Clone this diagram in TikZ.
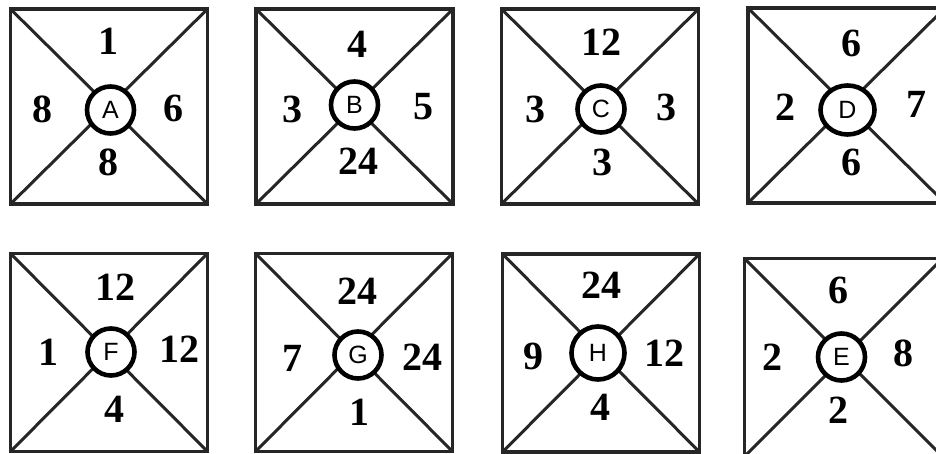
\documentclass[tikz,border=0pt]{standalone}
\usepackage{fontspec}
\setmainfont{Liberation Serif}
\newfontfamily\lettfont{Liberation Sans}
\usetikzlibrary{shapes.geometric}
\begin{document}
\begin{tikzpicture}[x=1pt,y=-1pt,
  panel/.style={draw=black!85,line width=3.8pt,minimum width=197pt,minimum height=195pt,outer sep=0pt,inner sep=0pt},
  diag/.style={draw=black!85,line width=3pt},
  ring/.style={circle,draw=black,fill=white,line width=4.6pt,minimum size=47pt,inner sep=0pt,font=\lettfont\fontsize{25}{25}\selectfont},
  oval/.style={ellipse,draw=black,fill=white,line width=4.6pt,minimum width=54pt,minimum height=49pt,inner sep=0pt,font=\lettfont\fontsize{25}{25}\selectfont},
  num/.style={inner sep=0pt,font=\bfseries\fontsize{40}{40}\selectfont}]
\clip (0,0) rectangle (936,454);
\fill[white] (0,0) rectangle (936,454);

% ---------- top row ----------
% A
\node[panel] (bA) at (109,106.5) {};
\draw[diag] (bA.north west) -- (bA.south east);
\draw[diag] (bA.north east) -- (bA.south west);
\node[ring] (cA) at (110.5,110) {A};
\node[num] (tA) at (108,41.5) {1};
\node[num] (lA) at (42,109) {8};
\node[num] (rA) at (173,108.5) {6};
\node[num] (dA) at (108,162.5) {8};

% B
\node[panel] (bB) at (354.5,106.5) {};
\draw[diag] (bB.north west) -- (bB.south east);
\draw[diag] (bB.north east) -- (bB.south west);
\node[ring] (cB) at (354.5,105) {B};
\node[num] (tB) at (357,44) {4};
\node[num] (lB) at (292,109) {3};
\node[num] (rB) at (423,107) {5};
\node[num] (dB) at (358,161) {24};

% C
\node[panel] (bC) at (600,106.5) {};
\draw[diag] (bC.north west) -- (bC.south east);
\draw[diag] (bC.north east) -- (bC.south west);
\node[ring] (cC) at (601,109) {C};
\node[num] (tC) at (601,42) {12};
\node[num] (lC) at (535,109) {3};
\node[num] (rC) at (666,107) {3};
\node[num] (dC) at (602,162) {3};

% D
\node[panel] (bD) at (846.5,105.5) {};
\draw[diag] (bD.north west) -- (bD.south east);
\draw[diag] (bD.north east) -- (bD.south west);
\node[oval] (cD) at (847.5,110) {D};
\node[num] (tD) at (851,43.5) {6};
\node[num] (lD) at (785,107) {2};
\node[num] (rD) at (916,104) {7};
\node[num] (dD) at (851,162.5) {6};

% ---------- bottom row ----------
% F
\node[panel,minimum height=198pt] (bF) at (109,352.5) {};
\draw[diag] (bF.north west) -- (bF.south east);
\draw[diag] (bF.north east) -- (bF.south west);
\node[ring] (cF) at (111,352) {F};
\node[num] (tF) at (115,287) {12};
\node[num] (lF) at (48,352) {1};
\node[num] (rF) at (179,349) {12};
\node[num] (dF) at (114,409) {4};

% G
\node[panel,minimum height=198pt] (bG) at (354,352.5) {};
\draw[diag] (bG.north west) -- (bG.south east);
\draw[diag] (bG.north east) -- (bG.south west);
\node[ring] (cG) at (358,355) {G};
\node[num] (tG) at (357,291) {24};
\node[num] (lG) at (292,358) {7};
\node[num] (rG) at (422,357) {24};
\node[num] (dG) at (359,412) {1};

% H
\node[panel,minimum height=198pt] (bH) at (601,353) {};
\draw[diag] (bH.north west) -- (bH.south east);
\draw[diag] (bH.north east) -- (bH.south west);
\node[ring,minimum size=53pt] (cH) at (598,353) {H};
\node[num] (tH) at (601,285) {24};
\node[num] (lH) at (533,356) {9};
\node[num] (rH) at (664,353) {12};
\node[num] (dH) at (600,407) {4};

% E
\node[panel,minimum width=198pt,minimum height=198pt] (bE) at (843.5,357.5) {};
\draw[diag] (bE.north west) -- (bE.south east);
\draw[diag] (bE.north east) -- (bE.south west);
\node[ring] (cE) at (841.5,357) {E};
\node[num] (tE) at (838,290) {6};
\node[num] (lE) at (772,357) {2};
\node[num] (rE) at (903,353) {8};
\node[num] (dE) at (838,410) {2};
\end{tikzpicture}
\end{document}
